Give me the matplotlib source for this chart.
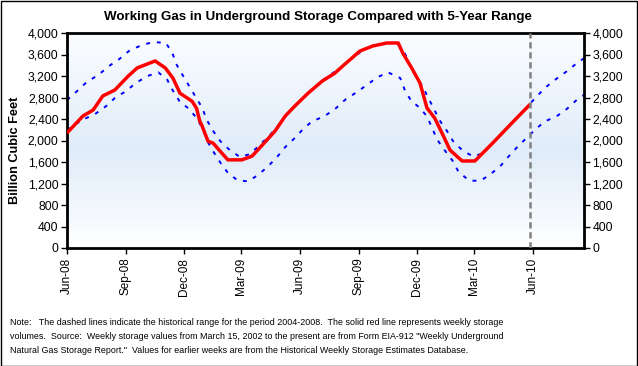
import numpy as np
import pandas as pd
import matplotlib
matplotlib.use("Agg")
import matplotlib.pyplot as plt
import matplotlib.dates as mdates
from matplotlib.ticker import FuncFormatter
from matplotlib.colors import LinearSegmentedColormap

plt.rcParams['font.family'] = ['Liberation Sans', 'DejaVu Sans']

# ---- data ----
actual_dates = ["2008-06-01", "2008-06-26", "2008-07-12", "2008-07-27", "2008-08-15", "2008-09-05",
                "2008-09-19", "2008-10-01", "2008-10-17", "2008-11-02", "2008-11-14", "2008-11-25",
                "2008-12-14", "2008-12-21", "2008-12-26", "2008-12-29", "2009-01-08", "2009-01-16",
                "2009-01-27", "2009-02-08", "2009-03-02", "2009-03-18", "2009-04-03", "2009-04-23",
                "2009-05-09", "2009-05-24", "2009-06-14", "2009-07-06", "2009-07-26", "2009-08-07",
                "2009-09-03", "2009-09-23", "2009-10-15", "2009-11-02", "2009-11-09", "2009-11-23",
                "2009-12-06", "2009-12-17", "2009-12-29", "2010-01-11", "2010-01-22", "2010-02-10",
                "2010-02-22", "2010-03-02", "2010-03-30", "2010-04-26", "2010-05-28"]
actual_values = [2140, 2456, 2567, 2828, 2940, 3200,
                 3350, 3405, 3480, 3350, 3160, 2880,
                 2730, 2600, 2360, 2290, 1985, 1950,
                 1800, 1640, 1640, 1710, 1915, 2177,
                 2456, 2642, 2884, 3107, 3256, 3386,
                 3665, 3758, 3814, 3814, 3628, 3349,
                 3070, 2605, 2419, 2102, 1823, 1619,
                 1619, 1619, 1953, 2288, 2679]

upper_dates = ["2008-06-01", "2008-06-17", "2008-07-02", "2008-07-20", "2008-08-06", "2008-08-22",
               "2008-09-08", "2008-09-27", "2008-10-14", "2008-11-03", "2008-11-13", "2008-11-20",
               "2008-11-30", "2008-12-19", "2008-12-30", "2009-01-06", "2009-01-16", "2009-01-27",
               "2009-02-11", "2009-02-27", "2009-03-15", "2009-03-30", "2009-04-15", "2009-04-26",
               "2009-05-09", "2009-05-24", "2009-06-14", "2009-07-05", "2009-07-18", "2009-08-03",
               "2009-08-18", "2009-09-06", "2009-09-23", "2009-10-12", "2009-10-31", "2009-11-12",
               "2009-11-20", "2009-11-30", "2009-12-11", "2009-12-19", "2009-12-28", "2010-01-05",
               "2010-01-17", "2010-01-27", "2010-02-11", "2010-02-27", "2010-03-15", "2010-03-30",
               "2010-04-26", "2010-05-27", "2010-06-07", "2010-06-21", "2010-07-08", "2010-07-24",
               "2010-08-09", "2010-08-20"]
upper_values = [2753, 2921, 3088, 3219, 3386, 3516,
                3684, 3777, 3833, 3814, 3628, 3405,
                3200, 2822, 2605, 2381, 2177, 1990,
                1823, 1693, 1749, 1916, 2102, 2251,
                2456, 2642, 2884, 3107, 3219, 3349,
                3498, 3665, 3758, 3814, 3814, 3628,
                3410, 3194, 2990, 2791, 2586, 2388,
                2183, 1985, 1811, 1705, 1760, 1953,
                2288, 2679, 2822, 2990, 3150, 3287,
                3442, 3530]

lower_dates = ["2008-06-01", "2008-06-09", "2008-06-26", "2008-07-15", "2008-08-01", "2008-08-15",
               "2008-09-01", "2008-09-17", "2008-10-04", "2008-10-22", "2008-11-05", "2008-11-14",
               "2008-11-25", "2008-12-09", "2008-12-21", "2008-12-30", "2009-01-07", "2009-01-16",
               "2009-01-27", "2009-02-07", "2009-02-23", "2009-03-12", "2009-03-28", "2009-04-13",
               "2009-04-27", "2009-05-09", "2009-05-24", "2009-06-06", "2009-06-20", "2009-07-09",
               "2009-07-26", "2009-08-11", "2009-08-27", "2009-09-13", "2009-09-30", "2009-10-17",
               "2009-11-05", "2009-11-12", "2009-11-22", "2009-12-06", "2009-12-17", "2009-12-25",
               "2010-01-02", "2010-01-13", "2010-01-26", "2010-02-04", "2010-02-21", "2010-03-11",
               "2010-03-27", "2010-04-12", "2010-04-24", "2010-05-07", "2010-05-22", "2010-06-06",
               "2010-06-20", "2010-07-08", "2010-07-24", "2010-08-09", "2010-08-20"]
lower_values = [2190, 2264, 2388, 2493, 2636, 2791,
                2915, 3070, 3194, 3268, 3131, 2926,
                2716, 2592, 2419, 2233, 1985, 1799,
                1594, 1414, 1259, 1240, 1364, 1531,
                1705, 1879, 2047, 2214, 2357, 2450,
                2586, 2760, 2884, 3026, 3175, 3268,
                3163, 2946, 2741, 2605, 2450, 2233,
                2016, 1830, 1625, 1426, 1252, 1252,
                1377, 1538, 1705, 1873, 2047, 2220,
                2357, 2450, 2586, 2760, 2850]

current_week = "2010-05-28"
x_start, x_end = "2008-06-01", "2010-08-20"
y_ticks = list(range(0, 4001, 400))

title = "Working Gas in Underground Storage Compared with 5-Year Range"
ylabel = "Billion Cubic Feet"
note = ("Note:   The dashed lines indicate the historical range for the period 2004-2008.  The solid red line represents weekly storage\n"
        "volumes.  Source:  Weekly storage values from March 15, 2002 to the present are from Form EIA-912 \"Weekly Underground\n"
        "Natural Gas Storage Report.\"  Values for earlier weeks are from the Historical Weekly Storage Estimates Database.")

# ---- figure ----
W, H = 638, 366
fig = plt.figure(figsize=(W / 100, H / 100), dpi=100)
fig.patch.set_facecolor("white")

L, R, B, T = 67, 584, 248, 33
ax = fig.add_axes([L / W, 1 - B / H, (R - L) / W, (B - T) / H])

xd0, xd1 = mdates.date2num(pd.Timestamp(x_start)), mdates.date2num(pd.Timestamp(x_end))

# gradient background
grad = np.linspace(0, 1, 256).reshape(-1, 1)
cmap = LinearSegmentedColormap.from_list("bg", [(0.0, "#ffffff"), (0.45, "#e0ecf9"), (1.0, "#fbfdff")])
ax.imshow(grad, extent=[xd0, xd1, 4000, 0], aspect="auto", cmap=cmap, zorder=0, interpolation="bilinear")

ud = pd.to_datetime(upper_dates)
ld = pd.to_datetime(lower_dates)
ad = pd.to_datetime(actual_dates)

ax.plot(ud, upper_values, color="#0000ff", lw=1.4, linestyle=(0, (2.0, 3.6)), zorder=2)
ax.plot(ld, lower_values, color="#0000ff", lw=1.4, linestyle=(0, (2.0, 3.6)), zorder=2)
ax.plot(ad, actual_values, color="#ff0000", lw=2.5, zorder=3, solid_capstyle="butt")

ax.axvline(pd.Timestamp(current_week), color="#808080", lw=1.8, linestyle=(0, (2.5, 1.5)), zorder=4)

ax.set_xlim(xd0, xd1)
ax.set_ylim(0, 4000)

ax.xaxis.set_major_locator(mdates.MonthLocator(bymonth=[3, 6, 9, 12], bymonthday=1))
ax.xaxis.set_major_formatter(mdates.DateFormatter("%b-%y"))
ax.tick_params(axis="x", rotation=90, labelsize=8.5, length=4, width=1, direction="out", pad=3)

ax.set_yticks(y_ticks)
ax.yaxis.set_major_formatter(FuncFormatter(lambda v, p: f"{int(v):,}"))
ax.tick_params(axis="y", labelsize=8.7, length=4, width=1, direction="out", pad=2,
               left=True, right=True, labelleft=True, labelright=True)

for s in ax.spines.values():
    s.set_linewidth(2)
    s.set_color("black")

fig.text(318 / W, 1 - 17 / H, title, ha="center", va="center", fontsize=9.6, fontweight="bold")
fig.text(15 / W, 1 - 150 / H, ylabel, ha="center", va="center", rotation=90, fontsize=9.2, fontweight="bold")
fig.text(10 / W, 1 - 318 / H, note, ha="left", va="top", fontsize=6.4, linespacing=1.7)

# outer border
fig.add_artist(plt.Rectangle((0.5 / W, 0.5 / H), 1 - 1.5 / W, 1 - 1.5 / H, transform=fig.transFigure,
                             fill=False, edgecolor="black", lw=1))

fig.savefig("out.png", dpi=100)
